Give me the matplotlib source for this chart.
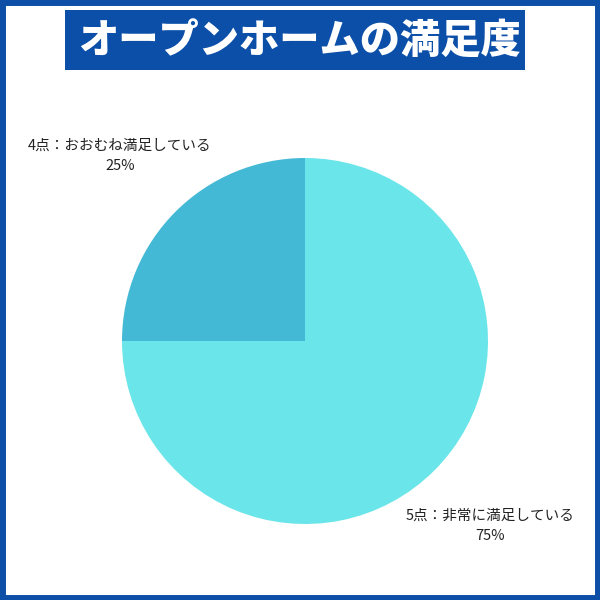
import matplotlib.pyplot as plt
from matplotlib.patches import Rectangle

plt.rcParams['font.family'] = ['Noto Sans CJK JP', 'DejaVu Sans']

title = 'オープンホームの満足度'
labels = ['4点：おおむね満足している', '5点：非常に満足している']
values = [25, 75]
colors = ['#44b9d5', '#6ae5e9']

fig = plt.figure(figsize=(6, 6), dpi=100)

# blue frame round the whole picture
fig.patches.append(Rectangle((0.004, 0.004), 0.992, 0.992, transform=fig.transFigure,
                             fill=False, edgecolor='#0d4ea6', linewidth=5))

# title in a blue box
fig.patches.append(Rectangle((65/600, 1-70/600), 460/600, 60/600, transform=fig.transFigure,
                             facecolor='#0b4fa8', edgecolor='none'))
fig.text(0.5, 1-41/600, title, ha='center', va='center', color='white',
         fontsize=29, fontweight='black')

ax = fig.add_axes([122/600, 1-524/600, 366/600, 366/600])
total = sum(values)
texts = [f'{l}\n{v/total*100:.0f}%' for l, v in zip(labels, values)]
wedges, lbls = ax.pie(values, labels=texts, colors=colors, startangle=90,
                      counterclock=True, labeldistance=1.43,
                      textprops={'fontsize': 10.5, 'color': '#222222'})
for t in lbls:
    t.set_ha('center')
    t.set_va('center')
    t.set_multialignment('center')
    t.set_linespacing(1.6)
ax.set_xlim(-1, 1)
ax.set_ylim(-1, 1)
ax.set_aspect('equal')

fig.savefig('out.png', dpi=100)
